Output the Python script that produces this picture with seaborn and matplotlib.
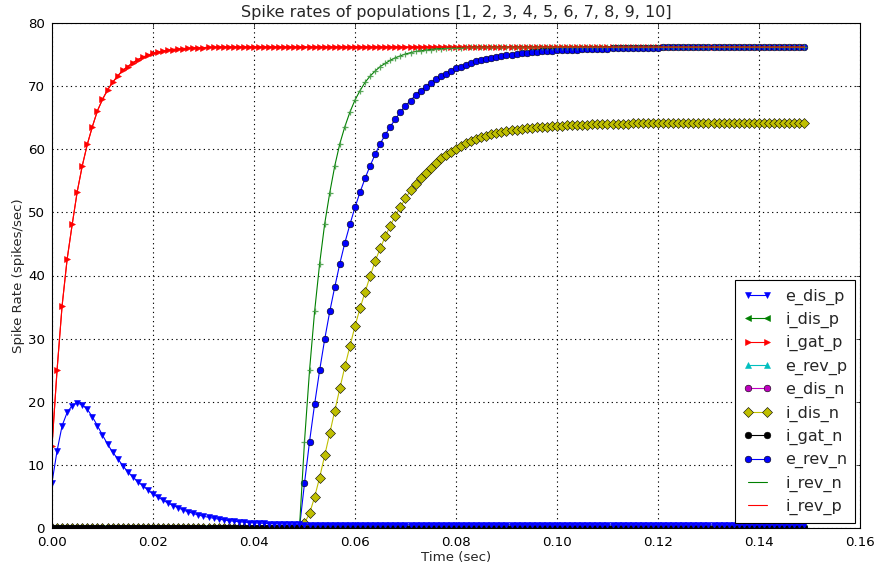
import numpy as np
import pandas as pd
import matplotlib
matplotlib.use("Agg")
import matplotlib.pyplot as plt
import seaborn as sns

# ---------------- data ----------------
time_s = np.round(np.arange(0, 0.150, 0.001), 3)

e_dis_p = ([7.2, 12.2, 16.2, 18.3, 19.4, 19.8, 19.5, 18.8, 17.6, 16.2,
            14.7, 13.3, 12.0, 11.0, 9.9, 8.9, 8.1, 7.3, 6.7, 6.0,
            5.4, 4.9, 4.4, 3.95, 3.55, 3.2, 2.85, 2.55, 2.3, 2.05,
            1.85, 1.7, 1.55, 1.4, 1.28, 1.17, 1.08, 1.0, 0.93, 0.87,
            0.82, 0.78, 0.74, 0.71, 0.68, 0.65, 0.63, 0.61, 0.59, 0.57]
           + [0.55] * 20 + [0.52] * 30 + [0.5] * 50)

i_dis_p = [0.0] * 150

i_gat_p = ([13.0, 25.0, 35.2, 42.6, 48.1, 53.3, 57.4, 60.8, 63.6, 66.1,
            67.9, 69.4, 70.6, 71.6, 72.5, 73.1, 73.7, 74.2, 74.6, 74.9,
            75.2, 75.4, 75.55, 75.7, 75.8, 75.9, 75.95, 76.0, 76.05, 76.1,
            76.1, 76.15, 76.15]
           + [76.2] * 117)

e_rev_p = [0.0] * 150
e_dis_n = [0.0] * 150

i_dis_n = ([0.0] * 50
           + [0.8, 2.3, 4.9, 8.0, 11.5, 15.0, 18.6, 22.1, 25.6, 28.8,
              32.0, 34.8, 37.4, 39.9, 42.3, 44.3, 46.2, 47.9, 49.5, 50.9,
              52.2, 53.5, 54.5, 55.5, 56.3, 57.1, 57.9, 58.6, 59.1, 59.6,
              60.1, 60.5, 60.95, 61.3, 61.6, 61.9, 62.15, 62.4, 62.55, 62.75,
              62.9, 63.0, 63.1, 63.2, 63.3, 63.38, 63.45, 63.52, 63.58, 63.64,
              63.7, 63.74, 63.78, 63.82, 63.85, 63.88, 63.91, 63.94, 63.96, 63.98,
              64.0, 64.02, 64.04, 64.05, 64.06, 64.08, 64.09, 64.1, 64.11, 64.12,
              64.13]
           + [64.15] * 10 + [64.18] * 10 + [64.2] * 9)

i_gat_n = [0.0] * 150

e_rev_n = ([0.0] * 50
           + [7.1, 13.7, 19.6, 25.0, 29.9, 34.3, 38.2, 41.9, 45.2, 48.1,
              50.8, 53.2, 55.4, 57.4, 59.2, 60.9, 62.3, 63.6, 64.8, 65.9,
              66.9, 67.7, 68.6, 69.3, 69.9, 70.5, 71.1, 71.6, 72.0, 72.4,
              72.8, 73.1, 73.4, 73.7, 73.95, 74.15, 74.35, 74.5, 74.65, 74.8,
              74.9, 75.0, 75.1, 75.2, 75.3, 75.35, 75.4, 75.5, 75.55, 75.6,
              75.65, 75.7, 75.72, 75.75, 75.8, 75.82, 75.85, 75.87, 75.9, 75.92,
              75.95, 75.97, 76.0, 76.0, 76.02, 76.04, 76.05, 76.06, 76.08, 76.09,
              76.1]
           + [76.12] * 10 + [76.15] * 10 + [76.17] * 9)

i_rev_n = ([0.0] * 50
           + [13.7, 25.0, 34.3, 41.9, 48.2, 53.1, 57.4, 60.9, 63.6, 65.9,
              67.8, 69.3, 70.6, 71.6, 72.4, 73.1, 73.6, 74.1, 74.5, 74.8,
              75.1, 75.3, 75.5, 75.6, 75.7, 75.8, 75.9, 75.95, 76.0, 76.05,
              76.1, 76.1, 76.15, 76.15]
           + [76.2] * 66)

i_rev_p = list(i_gat_p)

labels = ["e_dis_p", "i_dis_p", "i_gat_p", "e_rev_p", "e_dis_n",
          "i_dis_n", "i_gat_n", "e_rev_n", "i_rev_n", "i_rev_p"]

df = pd.DataFrame({
    "time": time_s,
    "e_dis_p": e_dis_p, "i_dis_p": i_dis_p, "i_gat_p": i_gat_p,
    "e_rev_p": e_rev_p, "e_dis_n": e_dis_n, "i_dis_n": i_dis_n,
    "i_gat_n": i_gat_n, "e_rev_n": e_rev_n, "i_rev_n": i_rev_n,
    "i_rev_p": i_rev_p,
})

# ---------------- styles ----------------
SC = 0.8  # 80 dpi original -> 100 dpi
styles = {
    "e_dis_p": dict(color="b", marker="v", mec="b", zorder=2.2),
    "i_dis_p": dict(color="g", marker="<", mec="g", zorder=2.0),
    "i_gat_p": dict(color="r", marker=">", mec="r", zorder=2.0),
    "e_rev_p": dict(color="c", marker="^", mec="c", zorder=2.0),
    "e_dis_n": dict(color="m", marker="o", mec="k", zorder=2.0),
    "i_dis_n": dict(color="y", marker="D", mec="k", zorder=2.0),
    "i_gat_n": dict(color="k", marker="o", mec="k", zorder=2.1),
    "e_rev_n": dict(color="b", marker="o", mec="k", zorder=2.0),
    "i_rev_n": dict(color="g", marker=None, mec="g", zorder=2.0),
    "i_rev_p": dict(color="r", marker=None, mec="r", zorder=2.0),
}

sns.set_style("white")
plt.rcParams["font.family"] = ["DejaVu Sans"]
plt.rcParams["font.size"] = 12 * SC
plt.rcParams["lines.scale_dashes"] = False

fig = plt.figure(figsize=(8.78, 5.64), dpi=100)
ax = fig.add_axes([52 / 878, 36 / 564, 808 / 878, 505 / 564])

for name in labels:
    st = styles[name]
    kw = dict(x=df["time"], y=df[name], ax=ax, color=st["color"],
              linewidth=1.0 * SC, label=name, errorbar=None, sort=False,
              zorder=st["zorder"])
    if st["marker"] is not None:
        kw.update(marker=st["marker"], markersize=6 * SC, mec=st["mec"],
                  mew=0.5 * SC)
    sns.lineplot(**kw)
    if name == "i_rev_n":
        # small tick marks visible along the green curve
        sns.lineplot(x=df["time"], y=df[name], ax=ax, color="g",
                     linewidth=0, marker="+", markersize=4.3, mec="#3f9a3f",
                     mew=0.9, label="_nolegend_", errorbar=None, sort=False,
                     alpha=0.85)

ax.set_xlim(0, 0.16)
ax.set_ylim(0, 80)
ax.set_xticks(np.arange(0, 0.161, 0.02))
ax.set_yticks(np.arange(0, 81, 10))
ax.xaxis.set_major_formatter(matplotlib.ticker.FormatStrFormatter("%.2f"))

ax.grid(True, color="k", linestyle=(0, (0.9, 2.4)), linewidth=0.8)
ax.tick_params(direction="in", top=True, right=True, length=4 * SC,
               width=0.5, colors="k", labelsize=12 * SC)
ax.tick_params(axis="x", pad=6)
ax.tick_params(axis="y", pad=5)
for sp in ax.spines.values():
    sp.set_visible(True)
    sp.set_color("k")
    sp.set_linewidth(1.0 * SC)

ax.set_xlabel("Time (sec)", fontsize=12 * SC, labelpad=1)
ax.set_ylabel("Spike Rate (spikes/sec)", fontsize=12 * SC, labelpad=2)
ax.set_title("Spike rates of populations [1, 2, 3, 4, 5, 6, 7, 8, 9, 10]",
             fontsize=14.4 * SC, pad=4)

leg = ax.legend(loc="lower right", numpoints=2, fancybox=False,
                framealpha=1, edgecolor="k", fontsize=14.4 * SC,
                borderaxespad=0.3, handlelength=1.8, labelspacing=0.45,
                borderpad=0.5, handletextpad=0.8)
leg.get_frame().set_linewidth(1.0 * SC)

fig.savefig("out.png", dpi=100)
